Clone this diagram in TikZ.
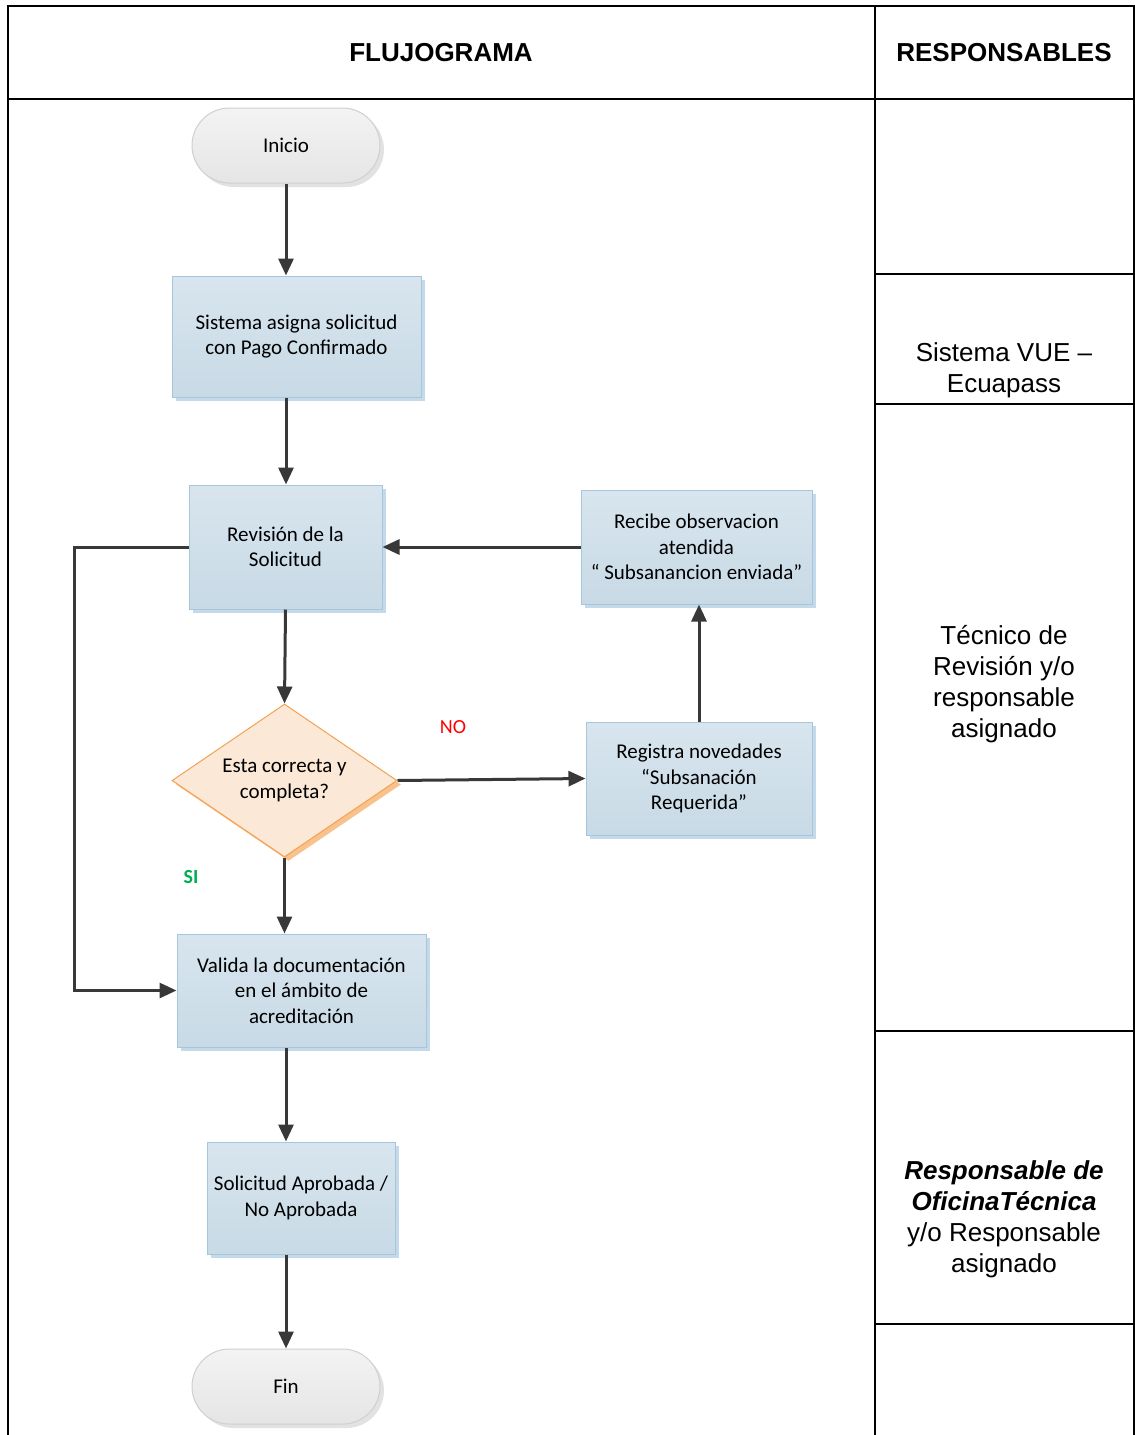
\documentclass[tikz,border=0pt]{standalone}
\usepackage{fontspec}
\setmainfont{Liberation Sans}
\newfontfamily\calfont{Carlito}
\usetikzlibrary{arrows.meta,shapes.geometric,shapes.misc,shadows}
\definecolor{boxtop}{HTML}{D8E5EE}
\definecolor{boxbot}{HTML}{C8DAE6}
\definecolor{boxborder}{HTML}{A6C6DC}
\definecolor{boxshadow}{HTML}{C4D9EA}
\definecolor{termtop}{HTML}{F3F3F3}
\definecolor{termbot}{HTML}{E5E5E5}
\definecolor{termborder}{HTML}{D0D0D0}
\definecolor{termshadow}{HTML}{E2E2E2}
\definecolor{diamfill}{HTML}{FCE8D6}
\definecolor{diamborder}{HTML}{F2A253}
\definecolor{diamshadow}{HTML}{F8C28C}
\definecolor{arrowcol}{HTML}{383838}
\definecolor{sigreen}{HTML}{00B050}
\tikzset{
  flowtext/.style={font=\calfont\fontsize{21}{25.5}\selectfont, align=center, inner sep=0pt},
  proc/.style={flowtext, rectangle, draw=boxborder, line width=1pt, top color=boxtop, bottom color=boxbot,
    drop shadow={shadow xshift=4pt, shadow yshift=-4pt, fill=boxshadow, opacity=1}},
  term/.style={flowtext, rounded rectangle, draw=termborder, line width=1pt, top color=termtop, bottom color=termbot,
    minimum width=188pt, minimum height=75pt,
    drop shadow={shadow xshift=4pt, shadow yshift=-4pt, fill=termshadow, opacity=1}},
  decision/.style={flowtext, diamond, aspect=1.47, draw=diamborder, line width=1pt, fill=diamfill,
    minimum width=225pt, minimum height=153pt,
    drop shadow={shadow xshift=4pt, shadow yshift=-4pt, fill=diamshadow, opacity=1}},
  arr/.style={draw=arrowcol, line width=3pt, -{Triangle[length=17pt,width=15pt]}},
  grid/.style={draw=black, line width=1.6pt},
  tabtext/.style={font=\fontsize{26}{31}\selectfont, align=center, inner sep=0pt},
}
\begin{document}
\begin{tikzpicture}[x=1pt,y=-1pt]
\useasboundingbox (0,0) rectangle (1135,1435);
% table
\draw[grid] (8,1436) -- (8,6) -- (1134,6) -- (1134,1436);
\draw[grid] (875,6) -- (875,1436);
\draw[grid] (8,99) -- (1134,99);
\draw[grid] (875,274) -- (1134,274);
\draw[grid] (875,404) -- (1134,404);
\draw[grid] (875,1031) -- (1134,1031);
\draw[grid] (875,1324) -- (1134,1324);
\node[tabtext, font=\bfseries\fontsize{26}{31}\selectfont] (h1) at (441,53) {FLUJOGRAMA};
\node[tabtext, font=\bfseries\fontsize{26}{31}\selectfont] (h2) at (1004,53) {RESPONSABLES};
\node[tabtext] (r1) at (1004,370) {Sistema VUE –\\Ecuapass};
\node[tabtext] (r2) at (1004,684) {Técnico de\\Revisión y/o\\responsable\\asignado};
\node[tabtext] (r3) at (1004,1219) {\textbf{\textit{Responsable de}}\\\textbf{\textit{OficinaTécnica}}\\y/o Responsable\\asignado};
% flow nodes
\node[term] (ini) at (286,145.5) {Inicio};
\node[proc, minimum width=249pt, minimum height=121pt] (sis) at (296.5,336.5) {\raisebox{-1.5pt}{\parbox{240pt}{\centering Sistema asigna solicitud\\con Pago Confirmado}}};
\node[proc, minimum width=193pt, minimum height=124pt] (rev) at (285.5,547) {Revisión de la\\Solicitud};
\node[proc, minimum width=231pt, minimum height=114pt] (rec) at (696.5,547) {Recibe observacion\\atendida\\“ Subsanancion enviada”};
\node[decision] (dia) at (284.5,780.5) {Esta correcta y\\completa?};
\node[proc, minimum width=226pt, minimum height=113pt] (reg) at (699,778.5) {Registra novedades\\“Subsanación\\Requerida”};
\node[proc, minimum width=249pt, minimum height=113pt] (val) at (301.5,990.5) {Valida la documentación\\en el ámbito de\\acreditación};
\node[proc, minimum width=188pt, minimum height=112pt] (apr) at (301,1198) {Solicitud Aprobada /\\No Aprobada};
\node[term] (fin) at (286,1386.5) {Fin};
% labels
\node[flowtext, font=\calfont\fontsize{20}{24}\selectfont, text=red] (no) at (453,727) {NO};
\node[flowtext, font=\calfont\bfseries\fontsize{20}{24}\selectfont, text=sigreen] (si) at (191,877) {SI};
% connectors
\draw[arr] (ini.south) -- (ini.south |- sis.north);
\draw[arr] (ini.south |- sis.south) -- (ini.south |- rev.north);
\draw[arr] (rev.south) -- (dia.north);
\draw[arr] (rec.west) -- (rev.east);
\draw[arr] (dia.east) -- (reg.west);
\draw[arr] (reg.north) -- (reg.north |- rec.south);
\draw[arr] (dia.south) -- (dia.south |- val.north);
\draw[arr] (rev.west) -- ++(-114,0) |- (val.west);
\draw[arr] (ini.south |- val.south) -- (ini.south |- apr.north);
\draw[arr] (ini.south |- apr.south) -- (fin.north);
\end{tikzpicture}
\end{document}
